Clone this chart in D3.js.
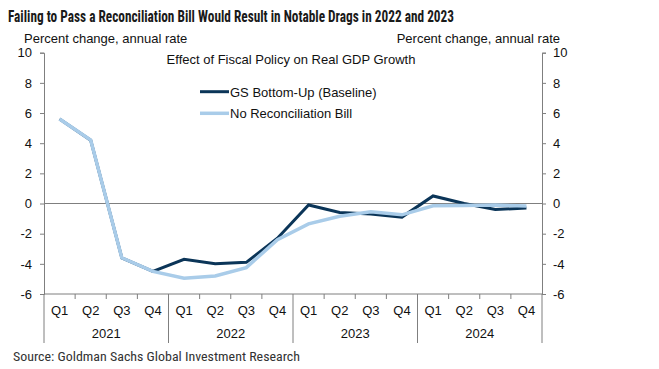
<!DOCTYPE html>
<html><head><meta charset="utf-8">
<script src="https://cdn.jsdelivr.net/npm/d3@7"></script>
<style>body{margin:0;background:#fff}svg{display:block}</style>
</head><body><svg id="c" width="659" height="369"></svg>
<script>
const quarters = ["Q1","Q2","Q3","Q4","Q1","Q2","Q3","Q4","Q1","Q2","Q3","Q4","Q1","Q2","Q3","Q4"];
const years = ["2021","2022","2023","2024"];
const baseline = [5.6,4.2,-3.6,-4.5,-3.7,-4.0,-3.9,-2.3,-0.1,-0.6,-0.7,-0.9,0.5,0.0,-0.4,-0.3];
const noBill   = [5.6,4.2,-3.6,-4.5,-4.95,-4.8,-4.25,-2.4,-1.35,-0.85,-0.55,-0.75,-0.15,-0.13,-0.1,-0.17];
const yTicks = [-6,-4,-2,0,2,4,6,8,10];
const seriesNames = ["GS Bottom-Up (Baseline)","No Reconciliation Bill"];
const colors = ["#0b3558","#a9cce9"];

const svg = d3.select("#c");
const L = 44, R = 542, T = 52.7, B = 294;
const x = d3.scaleBand().domain(d3.range(16)).range([L,R]).paddingInner(0).paddingOuter(0);
const y = d3.scaleLinear().domain([-6,10]).range([B,T]);
const axisCol = "#7f7f7f";
const font = "'Liberation Sans', Arial, sans-serif";
const fs = 13;

svg.append("text").attr("x",8).attr("y",22).attr("font-family","'Liberation Sans Narrow','Roboto Condensed',sans-serif")
  .attr("font-weight","bold").attr("font-size",16).attr("fill","#1a1a1a")
  .attr("textLength",446).attr("lengthAdjust","spacingAndGlyphs")
  .text("Failing to Pass a Reconciliation Bill Would Result in Notable Drags in 2022 and 2023");

svg.append("text").attr("x",24).attr("y",43).attr("font-family",font).attr("font-size",fs).attr("fill","#111")
  .text("Percent change, annual rate");
svg.append("text").attr("x",560).attr("y",43).attr("text-anchor","end").attr("font-family",font).attr("font-size",fs).attr("fill","#111")
  .text("Percent change, annual rate");
svg.append("text").attr("x",291).attr("y",64).attr("text-anchor","middle").attr("font-family",font).attr("font-size",fs).attr("fill","#111")
  .text("Effect of Fiscal Policy on Real GDP Growth");

const fmt = d => String(d);
const yl = svg.append("g").attr("transform",`translate(${L},0)`)
  .call(d3.axisLeft(y).tickValues(yTicks).tickFormat(fmt).tickSize(4).tickPadding(8));
const yr = svg.append("g").attr("transform",`translate(${R},0)`)
  .call(d3.axisRight(y).tickValues(yTicks).tickFormat(fmt).tickSize(4).tickPadding(7));
[yl,yr].forEach(g=>{
  g.selectAll("path,line").attr("stroke",axisCol);
  g.selectAll("text").attr("font-family",font).attr("font-size",fs).attr("fill","#111");
});

svg.append("line").attr("x1",L).attr("x2",R).attr("y1",y(0)).attr("y2",y(0)).attr("stroke",axisCol).attr("stroke-width",1);

svg.append("line").attr("x1",L).attr("x2",R).attr("y1",B).attr("y2",B).attr("stroke",axisCol);
d3.range(17).forEach(i=>{
  const xx = L + i*x.bandwidth();
  const yearSep = i%4===0;
  svg.append("line").attr("x1",xx).attr("x2",xx).attr("y1",B).attr("y2",yearSep?B+49:B+5).attr("stroke",axisCol);
});
svg.append("g").selectAll("text").data(quarters).join("text")
  .attr("x",(d,i)=>x(i)+x.bandwidth()/2).attr("y",B+21).attr("text-anchor","middle")
  .attr("font-family",font).attr("font-size",fs).attr("fill","#111").text(d=>d);
svg.append("g").selectAll("text").data(years).join("text")
  .attr("x",(d,i)=>x(i*4)+2*x.bandwidth()).attr("y",B+44).attr("text-anchor","middle")
  .attr("font-family",font).attr("font-size",fs).attr("fill","#111").text(d=>d);

const line = d3.line().x((d,i)=>x(i)+x.bandwidth()/2).y(d=>y(d));
svg.append("path").datum(baseline).attr("d",line).attr("fill","none").attr("stroke",colors[0]).attr("stroke-width",3).attr("stroke-linejoin","miter");
svg.append("path").datum(noBill).attr("d",line).attr("fill","none").attr("stroke",colors[1]).attr("stroke-width",3.5).attr("stroke-linejoin","miter");

const leg = svg.append("g");
seriesNames.forEach((n,i)=>{
  const yy = 91.7 + i*21.6;
  leg.append("line").attr("x1",200).attr("x2",229).attr("y1",yy).attr("y2",yy).attr("stroke",colors[i]).attr("stroke-width",i?3.5:3);
  leg.append("text").attr("x",230).attr("y",yy+5).attr("font-family",font).attr("font-size",fs).attr("fill","#111").text(n);
});

svg.append("text").attr("x",13).attr("y",361).attr("font-family","'Liberation Sans Narrow','Roboto Condensed',sans-serif")
  .attr("font-size",13).attr("fill","#333").attr("textLength",287).attr("lengthAdjust","spacingAndGlyphs")
  .text("Source: Goldman Sachs Global Investment Research");
</script></body></html>
